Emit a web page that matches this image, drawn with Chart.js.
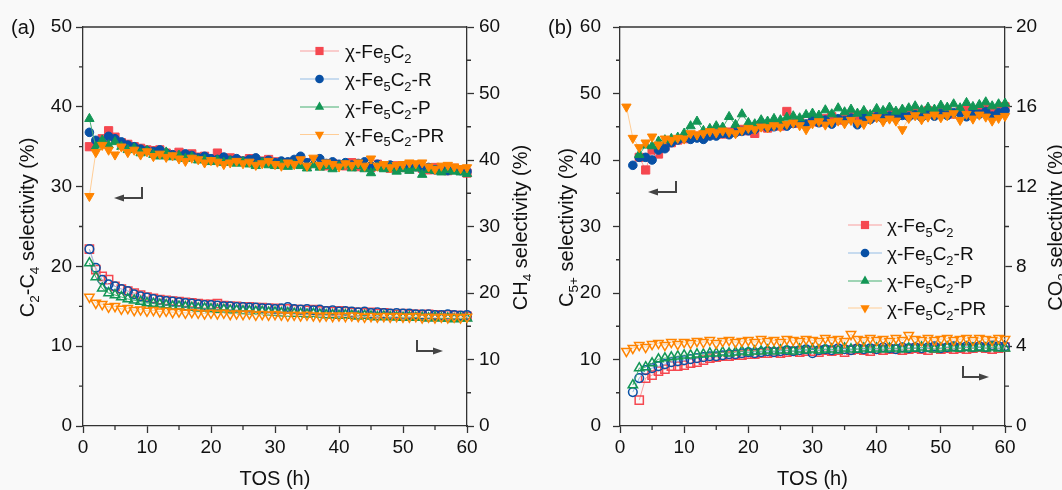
<!DOCTYPE html>
<html lang="en">
<head>
<meta charset="UTF-8">
<title>Selectivity vs TOS</title>
<script src="https://cdn.jsdelivr.net/npm/chart.js"></script>
<style>
  body { margin: 0; background: #f9f9f9; }
  .panel { position: absolute; top: 0; width: 531px; height: 490px; }
  #pa { left: 0; }
  #pb { left: 531px; }
</style>
</head>
<body>
<div class="panel" id="pa"><canvas id="chartA" width="531" height="490"></canvas></div>
<div class="panel" id="pb"><canvas id="chartB" width="531" height="490"></canvas></div>
<script>
// time on stream (h)
const hours = [1,2,3,4,5,6,7,8,9,10,11,12,13,14,15,16,17,18,19,20,
  21,22,23,24,25,26,27,28,29,30,31,32,33,34,35,36,37,38,39,40,
  41,42,43,44,45,46,47,48,49,50,51,52,53,54,55,56,57,58,59,60];

const seriesNames = ['χ-Fe5C2', 'χ-Fe5C2-R', 'χ-Fe5C2-P', 'χ-Fe5C2-PR'];

// (a) C2-C4 selectivity, left axis
const c24Fe = [35.0,35.3,36.0,37.0,36.2,35.5,35.3,35.0,34.8,34.6,34.5,34.6,34.2,34.0,34.3,33.9,34.1,33.7,33.8,33.5,
  34.2,33.4,33.6,33.3,33.2,33.5,33.0,33.2,33.4,33.1,32.8,33.0,32.9,33.2,32.7,33.1,32.8,32.6,32.9,32.7,
  32.6,33.0,32.5,32.7,32.4,32.8,32.5,32.3,32.6,32.4,32.2,32.5,32.3,32.1,32.4,32.2,32.0,32.3,32.1,31.7];
const c24R = [36.8,35.8,35.5,36.3,36.0,35.6,35.2,35.0,34.7,34.5,34.4,34.6,34.2,34.0,33.8,34.1,33.9,33.6,33.8,33.5,
  33.4,33.7,33.3,33.5,33.2,33.4,33.6,33.1,33.3,33.0,33.2,33.1,33.4,33.8,33.0,33.2,33.5,32.9,33.1,32.8,
  33.0,32.7,32.9,33.1,32.6,32.8,32.5,32.7,32.4,32.6,32.3,32.5,32.2,32.4,32.1,32.3,32.0,32.2,32.0,31.9];
const c24P = [38.5,35.0,35.8,35.2,35.6,35.0,34.6,34.8,34.2,34.5,34.0,33.8,34.3,33.7,33.9,33.5,33.7,33.3,33.4,33.1,
  33.3,33.0,33.2,32.9,33.1,32.8,32.6,33.0,32.7,32.6,32.8,32.5,32.7,32.6,32.3,32.7,32.4,32.6,32.2,32.5,
  32.7,32.3,32.6,32.2,31.7,32.4,32.2,32.3,31.9,32.2,32.0,32.3,31.5,32.1,32.0,31.8,32.1,31.9,31.8,31.6];
const c24PR = [28.8,34.3,35.2,34.6,34.0,35.0,34.3,34.6,34.0,34.4,33.8,34.1,33.7,33.9,33.5,33.2,33.6,33.4,33.0,33.3,
  33.1,32.8,33.0,33.2,32.9,33.1,32.7,32.9,33.2,32.8,32.6,33.0,32.8,33.4,32.6,33.6,32.7,33.0,32.8,32.5,
  32.9,32.7,33.0,32.6,33.5,32.6,32.8,32.4,32.7,32.8,33.0,32.9,33.0,32.5,32.2,32.6,32.7,32.5,32.3,32.4];

// (a) CH4 selectivity, right axis
const ch4Fe = [26.6,23.5,22.5,22.0,21.0,20.6,20.3,20.0,19.7,19.4,19.2,19.0,18.9,18.8,18.7,18.6,18.5,18.4,18.3,18.3,
  18.4,18.1,18.0,18.0,17.9,17.9,17.8,17.8,17.7,17.7,17.6,17.6,17.5,17.5,17.4,17.5,17.3,17.3,17.2,17.3,
  17.2,17.1,17.1,17.0,17.1,16.9,17.0,16.9,16.8,16.9,16.8,16.8,16.7,16.8,16.7,16.6,16.7,16.6,16.6,16.5];
const ch4R = [26.6,23.8,22.0,21.3,21.0,20.6,20.3,19.8,19.5,19.3,19.1,18.9,18.8,18.7,18.6,18.5,18.4,18.3,18.2,18.2,
  18.1,18.0,18.0,17.9,17.9,17.8,17.8,17.7,17.7,17.6,17.7,17.9,17.6,17.5,17.6,17.4,17.5,17.3,17.4,17.2,
  17.3,17.2,17.1,17.2,17.0,17.1,17.0,16.9,17.0,16.9,16.9,16.8,16.8,16.8,16.7,16.7,16.8,16.7,16.6,16.7];
const ch4P = [24.5,22.4,20.7,20.0,19.7,19.4,19.1,18.9,18.7,18.5,18.4,18.3,18.2,18.0,18.0,17.9,17.8,17.7,17.7,17.6,
  17.5,17.5,17.4,17.4,17.3,17.3,17.2,17.2,17.1,17.1,17.0,17.0,16.9,16.9,16.8,16.9,16.8,16.7,16.7,16.6,
  16.7,16.6,16.5,16.6,16.5,16.4,16.5,16.4,16.4,16.3,16.4,16.3,16.3,16.2,16.3,16.2,16.2,16.1,16.2,16.2];
const ch4PR = [19.4,18.5,18.3,17.9,18.0,17.6,17.7,17.4,17.5,17.3,17.4,17.2,17.3,17.1,17.2,17.0,17.1,17.0,16.9,17.0,
  16.9,17.0,16.8,16.9,16.8,16.9,16.7,16.8,16.7,16.8,16.7,16.6,16.7,16.6,16.7,16.6,16.5,16.6,16.5,16.6,
  16.5,16.6,16.5,16.4,16.5,16.4,16.5,16.4,16.5,16.4,16.4,16.5,16.3,16.4,16.3,16.4,16.3,16.4,16.3,16.4];

// (b) C5+ selectivity, left axis
const c5Fe = [null,null,40.4,38.5,41.5,40.9,42.0,42.6,43.0,43.2,43.4,43.6,43.5,43.8,44.0,43.9,44.2,44.3,44.6,44.4,
  44.0,45.0,44.8,45.3,45.1,47.3,45.5,45.8,45.4,46.0,45.7,46.2,46.5,46.0,46.3,46.6,46.1,46.8,46.4,46.9,
  46.5,47.1,46.7,47.0,46.8,47.2,46.9,47.4,47.0,47.2,47.5,46.9,47.3,47.6,47.1,47.4,47.7,47.2,47.5,48.0];
const c5R = [null,39.2,40.4,40.4,40.0,41.5,41.7,42.6,43.0,43.3,43.1,43.3,43.1,43.6,43.6,44.0,43.8,44.1,44.3,44.4,
  44.6,45.6,44.9,45.0,45.3,45.1,45.5,45.7,45.4,45.9,45.6,46.0,45.4,46.2,45.9,46.3,45.3,46.4,46.1,46.5,
  46.2,46.6,46.3,46.7,46.5,46.8,46.4,46.9,46.6,47.0,46.7,47.1,46.8,46.5,47.2,46.9,47.3,46.6,47.1,47.4];
const c5P = [null,null,40.8,42.2,42.1,42.8,43.0,43.2,43.4,44.0,45.1,45.8,44.4,44.7,45.1,44.9,46.5,45.3,46.9,45.6,
  45.4,46.0,45.8,46.2,46.0,46.4,46.6,46.3,46.8,47.0,46.7,47.5,46.9,47.8,47.2,47.6,47.0,47.4,46.8,47.7,
  47.4,47.9,47.3,47.6,47.8,48.1,47.5,47.9,47.6,48.2,47.9,48.4,47.8,48.6,48.0,48.3,48.7,48.1,48.4,48.5];
const c5PR = [48.0,43.3,41.9,42.6,43.5,42.3,43.2,43.0,43.3,43.2,44.0,43.8,44.0,44.3,44.1,44.4,44.2,44.0,44.5,44.8,
  44.6,45.0,44.9,45.2,45.0,45.4,45.6,45.2,44.6,45.5,45.8,45.3,45.7,45.9,45.5,46.0,45.6,45.4,46.1,46.4,
  45.8,46.2,45.9,44.6,46.3,46.7,46.1,46.5,46.8,46.4,46.7,47.0,46.0,46.9,46.2,46.8,46.5,45.9,46.3,46.6];

// (b) CO2 selectivity, right axis
const co2Fe = [null,null,1.30,2.40,2.55,2.75,2.85,3.00,3.00,3.05,3.15,3.20,3.30,3.40,3.45,3.50,3.50,3.55,3.55,3.60,
  3.60,3.65,3.65,3.70,3.65,3.70,3.75,3.70,3.75,3.75,3.70,3.80,3.75,3.80,3.70,3.80,3.85,3.80,3.75,3.85,
  3.80,3.85,3.85,3.80,3.85,3.90,3.85,3.80,3.90,3.85,3.90,3.85,3.90,3.85,3.90,3.95,3.90,3.85,3.90,3.95];
const co2R = [null,1.70,2.40,2.80,2.90,3.00,3.10,3.20,3.25,3.30,3.35,3.40,3.45,3.50,3.50,3.55,3.60,3.60,3.65,3.70,
  3.65,3.70,3.75,3.70,3.75,3.80,3.75,3.80,3.85,3.65,3.80,3.85,3.80,3.90,3.85,3.80,3.90,3.85,3.90,3.85,
  3.95,3.90,3.85,3.95,3.90,3.95,3.90,3.95,4.00,3.90,3.95,4.00,3.95,4.00,3.95,4.00,3.95,4.05,4.00,4.00];
const co2P = [null,2.05,2.90,2.95,3.15,3.35,3.40,3.45,3.50,3.55,3.55,3.60,3.60,3.65,3.65,3.70,3.65,3.70,3.75,3.70,
  3.75,3.75,3.80,3.75,3.80,3.80,3.75,3.85,3.80,3.85,3.80,3.85,3.85,3.80,3.90,3.85,3.85,3.90,3.85,3.90,
  3.85,3.90,3.90,3.85,3.90,3.90,3.95,3.90,3.85,3.90,3.95,3.90,3.90,3.95,3.90,3.95,3.90,3.95,3.90,3.90];
const co2PR = [3.75,3.90,4.05,3.95,4.10,4.15,4.05,4.20,4.10,4.20,4.15,4.25,4.20,4.30,4.15,4.25,4.30,4.20,4.25,4.30,
  4.20,4.35,4.25,4.30,4.20,4.35,4.30,4.25,4.35,4.30,4.25,4.40,4.30,4.35,4.25,4.60,4.35,4.30,4.40,4.30,
  4.35,4.25,4.40,4.30,4.55,4.35,4.30,4.40,4.30,4.35,4.40,4.30,4.35,4.40,4.30,4.40,4.35,4.30,4.40,4.35];

const FONT = "'Liberation Sans', Arial, sans-serif";
const INK = '#111';
const AXIS = '#333';

// marker colour, thin connecting line colour, point style
const looks = [
  { c: 'rgb(245,72,80)',  l: 'rgb(250,160,160)', s: 'rect',     rot: 0,   r: 5.8 },
  { c: 'rgb(8,80,165)',   l: 'rgb(150,190,230)', s: 'circle',   rot: 0,   r: 4.3 },
  { c: 'rgb(18,150,85)',  l: 'rgb(70,175,115)',  s: 'triangle', rot: 0,   r: 5.4 },
  { c: 'rgb(255,132,0)',  l: 'rgb(255,205,150)', s: 'triangle', rot: 180, r: 5.4 }
];

function pts(ys) {
  return ys.map((y, i) => ({ x: hours[i], y: y }));
}

function makeSet(ys, k, axisId, open) {
  const lk = looks[k];
  return {
    label: seriesNames[k],
    data: pts(ys),
    yAxisID: axisId,
    borderColor: lk.l,
    borderWidth: 1,
    pointStyle: lk.s,
    pointRotation: lk.rot,
    pointRadius: lk.r,
    pointBackgroundColor: open ? 'rgba(0,0,0,0)' : lk.c,
    pointBorderColor: lk.c,
    pointBorderWidth: open ? 1.5 : 1,
    order: 4 - k,
    clip: false
  };
}

function tickScale(pos, max, step, size, pad) {
  return {
    type: 'linear',
    position: pos,
    min: 0,
    max: max,
    ticks: { stepSize: step, color: INK, padding: pad, font: { family: FONT, size: 19 } },
    grid: { drawOnChartArea: false, drawTicks: true, tickLength: 7, tickWidth: 1.3, tickColor: AXIS },
    border: { color: AXIS, width: 1.3 },
    afterFit: (s) => {
      if (pos === 'bottom') s.height = size; else s.width = size;
    }
  };
}

// rich text with subscripts: parts = [[text, isSub], ...]
function rich(ctx, parts, x, y, size, rotate, align) {
  ctx.save();
  ctx.translate(x, y);
  if (rotate) ctx.rotate(-Math.PI / 2);
  ctx.textBaseline = 'alphabetic';
  ctx.textAlign = 'left';
  ctx.fillStyle = INK;
  let w = 0;
  const ws = parts.map(([t, sub]) => {
    ctx.font = (sub ? size * 0.68 : size) + 'px ' + FONT;
    const m = ctx.measureText(t).width;
    w += m;
    return m;
  });
  let cx = align === 'center' ? -w / 2 : 0;
  parts.forEach(([t, sub], i) => {
    ctx.font = (sub ? size * 0.68 : size) + 'px ' + FONT;
    ctx.fillText(t, cx, sub ? size * 0.24 : 0);
    cx += ws[i];
  });
  ctx.restore();
}

function marker(ctx, k, x, y) {
  const lk = looks[k];
  ctx.fillStyle = lk.c;
  ctx.beginPath();
  if (lk.s === 'rect') {
    const h = lk.r * Math.SQRT1_2;
    ctx.rect(x - h, y - h, 2 * h, 2 * h);
  } else if (lk.s === 'circle') {
    ctx.arc(x, y, lk.r, 0, Math.PI * 2);
  } else {
    const d = lk.rot ? -1 : 1;
    const r = lk.r;
    ctx.moveTo(x, y - d * r);
    ctx.lineTo(x - r * 0.866, y + d * r * 0.5);
    ctx.lineTo(x + r * 0.866, y + d * r * 0.5);
    ctx.closePath();
  }
  ctx.fill();
}

function legendLabel(k) {
  const tail = ['', '-R', '-P', '-PR'][k];
  return [['χ-Fe', 0], ['5', 1], ['C', 0], ['2', 1], [tail, 0]];
}

// hook arrow telling which axis the series belongs to
function hookArrow(ctx, x, yTop, yBot, tipX) {
  ctx.save();
  ctx.strokeStyle = '#444';
  ctx.fillStyle = '#444';
  ctx.lineWidth = 2;
  const dir = tipX < x ? -1 : 1;
  ctx.beginPath();
  ctx.moveTo(x, yTop);
  ctx.lineTo(x, yBot);
  ctx.lineTo(tipX - dir * 7, yBot);
  ctx.stroke();
  ctx.beginPath();
  ctx.moveTo(tipX, yBot);
  ctx.lineTo(tipX - dir * 10, yBot - 3.5);
  ctx.lineTo(tipX - dir * 10, yBot + 3.5);
  ctx.closePath();
  ctx.fill();
  ctx.restore();
}

const deco = {
  id: 'deco',
  afterDraw(chart, args, o) {
    const ctx = chart.ctx;
    const a = chart.chartArea;
    ctx.save();
    ctx.strokeStyle = AXIS;
    ctx.lineWidth = 1.3;
    ctx.beginPath();
    ctx.moveTo(a.left, a.top);
    ctx.lineTo(a.right, a.top);
    ctx.stroke();

    // minor ticks halfway between major ones
    Object.keys(o.minor).forEach((id) => {
      const s = chart.scales[id];
      const st = o.minor[id];
      ctx.beginPath();
      for (let v = st; v < s.max; v += 2 * st) {
        const p = s.getPixelForValue(v);
        if (id === 'x') { ctx.moveTo(p, a.bottom); ctx.lineTo(p, a.bottom + 4); }
        else if (s.position === 'left') { ctx.moveTo(a.left - 4, p); ctx.lineTo(a.left, p); }
        else { ctx.moveTo(a.right, p); ctx.lineTo(a.right + 4, p); }
      }
      ctx.stroke();
    });
    ctx.restore();

    // axis titles
    const midY = (a.top + a.bottom) / 2 + 1;
    rich(ctx, o.leftTitle, o.leftX, midY, 20, true, 'center');
    rich(ctx, o.rightTitle, o.rightX, midY, 20, true, 'center');
    rich(ctx, [['TOS (h)', 0]], (a.left + a.right) / 2, 485, 20, false, 'center');
    rich(ctx, [[o.tag, 0]], o.tagX, 34, 20, false, 'left');

    // legend
    const lg = o.legend;
    lg.rows.forEach((y, k) => {
      ctx.save();
      ctx.strokeStyle = looks[k].l;
      ctx.lineWidth = 1.2;
      ctx.beginPath();
      ctx.moveTo(lg.x0, y);
      ctx.lineTo(lg.x1, y);
      ctx.stroke();
      marker(ctx, k, (lg.x0 + lg.x1) / 2, y);
      ctx.restore();
      rich(ctx, legendLabel(k), lg.tx, y + 7, 19, false, 'left');
    });

    o.arrows.forEach((ar) => hookArrow(ctx, ar[0], ar[1], ar[2], ar[3]));
  }
};

Chart.register(deco);

const common = {
  responsive: false,
  animation: false,
  devicePixelRatio: 1,
  events: [],
  layout: { padding: { top: 27, left: 0, right: 0, bottom: 0 } },
  elements: { line: { tension: 0 } }
};

new Chart(document.getElementById('chartA'), {
  type: 'line',
  data: {
    datasets: [
      makeSet(c24Fe, 0, 'yl', false), makeSet(c24R, 1, 'yl', false),
      makeSet(c24P, 2, 'yl', false), makeSet(c24PR, 3, 'yl', false),
      makeSet(ch4Fe, 0, 'yr', true), makeSet(ch4R, 1, 'yr', true),
      makeSet(ch4P, 2, 'yr', true), makeSet(ch4PR, 3, 'yr', true)
    ]
  },
  options: Object.assign({}, common, {
    scales: {
      x: tickScale('bottom', 60, 10, 64, 3),
      yl: tickScale('left', 50, 10, 83, 4),
      yr: tickScale('right', 60, 10, 64, 5)
    },
    plugins: {
      legend: { display: false },
      tooltip: { enabled: false },
      deco: {
        minor: { x: 5, yl: 5, yr: 5 },
        leftTitle: [['C', 0], ['2', 1], ['-C', 0], ['4', 1], [' selectivity (%)', 0]],
        rightTitle: [['CH', 0], ['4', 1], [' selectivity (%)', 0]],
        leftX: 34, rightX: 527,
        tag: '(a)', tagX: 11,
        legend: { x0: 300, x1: 339, tx: 345, rows: [51, 79, 107, 134.5] },
        arrows: [[142, 187, 198, 114], [417, 340, 351, 443]]
      }
    }
  })
});

new Chart(document.getElementById('chartB'), {
  type: 'line',
  data: {
    datasets: [
      makeSet(c5Fe, 0, 'yl', false), makeSet(c5R, 1, 'yl', false),
      makeSet(c5P, 2, 'yl', false), makeSet(c5PR, 3, 'yl', false),
      makeSet(co2Fe, 0, 'yr', true), makeSet(co2R, 1, 'yr', true),
      makeSet(co2P, 2, 'yr', true), makeSet(co2PR, 3, 'yr', true)
    ]
  },
  options: Object.assign({}, common, {
    scales: {
      x: tickScale('bottom', 60, 10, 64, 3),
      yl: tickScale('left', 60, 10, 89, 12),
      yr: tickScale('right', 20, 4, 57, 4)
    },
    plugins: {
      legend: { display: false },
      tooltip: { enabled: false },
      deco: {
        minor: { x: 5, yl: 5, yr: 2 },
        leftTitle: [['C', 0], ['5+', 1], [' selectivity (%)', 0]],
        rightTitle: [['CO', 0], ['2', 1], [' selectivity (%)', 0]],
        leftX: 42, rightX: 531,
        tag: '(b)', tagX: 17,
        legend: { x0: 317, x1: 351, tx: 356, rows: [225, 253, 281, 308] },
        arrows: [[145, 181, 192, 117], [432, 366, 377, 458]]
      }
    }
  })
});
</script>
</body>
</html>
